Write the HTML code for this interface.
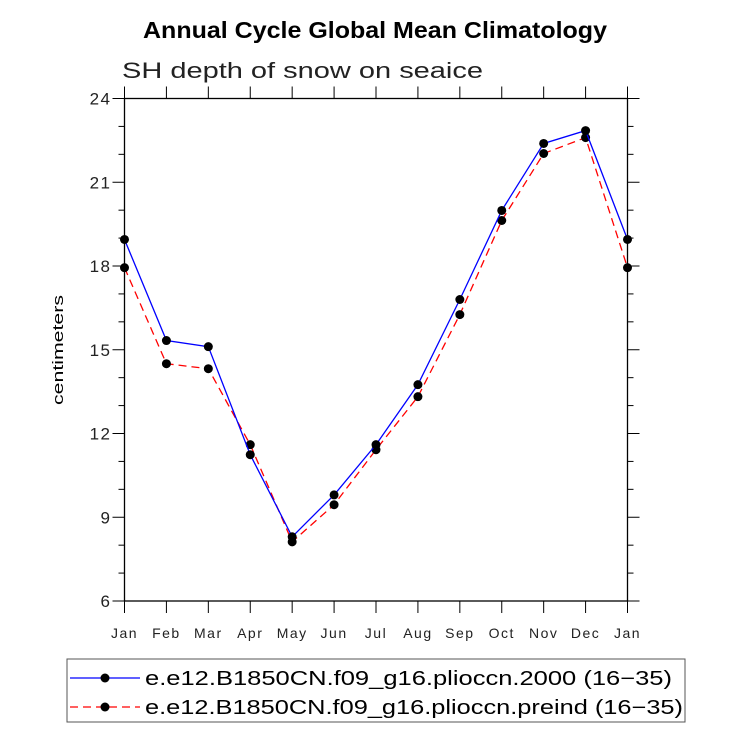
<!DOCTYPE html>
<html><head><meta charset="utf-8"><style>
body{margin:0;background:#fff}
svg text{font-family:"Liberation Sans",sans-serif}
</style></head><body>
<svg id="c" width="733" height="746" xmlns="http://www.w3.org/2000/svg">
<text x="143" y="38" textLength="464" lengthAdjust="spacingAndGlyphs" font-size="23" font-weight="bold">Annual Cycle Global Mean Climatology</text>
<text x="122" y="78" textLength="361" lengthAdjust="spacingAndGlyphs" font-size="22" fill="#222">SH depth of snow on seaice</text>
<text transform="translate(63,350) rotate(-90)" text-anchor="middle" font-size="15" textLength="110" lengthAdjust="spacingAndGlyphs">centimeters</text>
<g id="axes"></g>
<g id="marks"></g>
<rect x="67" y="659" width="618" height="63" fill="none" stroke="#555" stroke-width="1"/>
<g>
<line x1="70" y1="678" x2="140" y2="678" stroke="#00f" stroke-width="1.2"/><circle cx="105" cy="678" r="4.5"/>
<text x="145" y="685" font-size="20" textLength="527" lengthAdjust="spacingAndGlyphs">e.e12.B1850CN.f09_g16.plioccn.2000 (16−35)</text></g>
<g>
<line x1="70" y1="707" x2="140" y2="707" stroke="#f00" stroke-width="1.2" stroke-dasharray="8,5"/><circle cx="105" cy="707" r="4.5"/>
<text x="145" y="714" font-size="20" textLength="538" lengthAdjust="spacingAndGlyphs">e.e12.B1850CN.f09_g16.plioccn.preind (16−35)</text></g>
</svg>
<script>
const months=["Jan","Feb","Mar","Apr","May","Jun","Jul","Aug","Sep","Oct","Nov","Dec","Jan"];
const series2000=[18.95,15.33,15.11,11.24,8.3,9.8,11.6,13.75,16.8,19.99,22.39,22.85,18.95];
const seriesPreind=[17.94,14.5,14.32,11.6,8.12,9.45,11.42,13.32,16.26,19.63,22.03,22.6,17.94];
const yTicks=[6,9,12,15,18,21,24];
const L=124.5,R=627.5,T=98.5,B=601;
const NS="http://www.w3.org/2000/svg";
const xs=i=>L+(R-L)*i/(months.length-1);
const ys=v=>B-(v-6)/(24-6)*(B-T);
function mk(tag,attrs,parent){const e=document.createElementNS(NS,tag);for(const k in attrs)e.setAttribute(k,attrs[k]);parent.appendChild(e);return e;}
const ax=document.getElementById('axes'),mg=document.getElementById('marks');
const frame=mk('rect',{x:L,y:T,width:R-L,height:B-T,fill:'none',stroke:'#000','stroke-width':1.3},ax);


for(let v=6;v<=24;v++){
  const y=ys(v),maj=yTicks.includes(v),len=maj?12:6;
  mk('line',{x1:L-len,y1:y,x2:L,y2:y,stroke:'#000'},ax);
  mk('line',{x1:R,y1:y,x2:R+len,y2:y,stroke:'#000'},ax);
  if(maj){const t=mk('text',{x:L-13,y:y+6,'text-anchor':'end','font-size':17,fill:'#222','letter-spacing':1.5},ax);t.textContent=v;
    
    }
}
months.forEach((m,i)=>{
  const x=xs(i);
  mk('line',{x1:x,y1:B,x2:x,y2:B+12,stroke:'#000'},ax);
  mk('line',{x1:x,y1:T-12,x2:x,y2:T,stroke:'#000'},ax);
  const t=mk('text',{x:x,y:B+37,'text-anchor':'middle','font-size':14,fill:'#222','letter-spacing':1.5},ax);t.textContent=m;
  
  
});
function draw(data,color,dash,name){
  const p=mk('polyline',{points:data.map((v,i)=>xs(i)+','+ys(v)).join(' '),fill:'none',stroke:color,'stroke-width':1.3,'stroke-dasharray':dash},mg);
  
  
  data.forEach((v,i)=>{const c=mk('circle',{cx:xs(i),cy:ys(v),r:4.5,fill:'#000'},mg);
    
    });
}
draw(seriesPreind,'#f00','8,5','preind');
draw(series2000,'#00f','none','series-2000');
</script>
</body></html>
